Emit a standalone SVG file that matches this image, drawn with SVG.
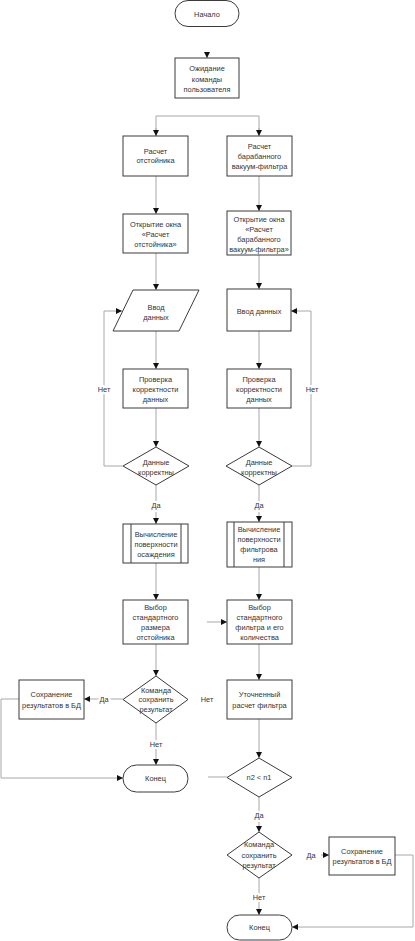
<svg xmlns="http://www.w3.org/2000/svg" width="415" height="941" viewBox="0 0 415 941">
<style>
.n{fill:#fff;stroke:#3a3a3a;stroke-width:1}
.t{font-family:"Liberation Sans",Arial,sans-serif;font-size:7.4px;fill:#333;text-anchor:middle}
.c{fill:none;stroke:#a8a8a8;stroke-width:1}
.a{marker-end:url(#ah)}
.l{font-family:"Liberation Sans",Arial,sans-serif;font-size:7.4px;fill:#333;text-anchor:middle;stroke:#fff;stroke-width:4;paint-order:stroke}
</style>
<defs>
<marker id="ah" viewBox="0 0 6 6" refX="6" refY="3" markerWidth="6" markerHeight="6" markerUnits="userSpaceOnUse" orient="auto">
<path d="M0,0 L6,3 L0,6 z" fill="#111"/>
</marker>
</defs>
<rect width="415" height="941" fill="#fff"/>
<g id="connectors">
<path class="c a" d="M207,53 V58"/>
<path class="c" d="M156,136 V116 H259 V136"/>
<path class="c a" d="M156,128 V136"/>
<path class="c a" d="M259,128 V136"/>
<path class="c a" d="M156,176 V214"/>
<path class="c a" d="M259,176 V211"/>
<path class="c a" d="M156,253 V290"/>
<path class="c a" d="M259,255 V289"/>
<path class="c a" d="M156,331 V369"/>
<path class="c a" d="M259,331 V369"/>
<path class="c a" d="M156,408 V447"/>
<path class="c a" d="M259,408 V447"/>
<path class="c a" d="M123,466 H104 V311 H122"/>
<path class="c a" d="M292,466 H311 V311 H291"/>
<path class="c a" d="M156,485 V524"/>
<path class="c a" d="M259,485 V522"/>
<path class="c a" d="M156,563 V600"/>
<path class="c a" d="M259,567 V600"/>
<path class="c a" d="M207,622 H227"/>
<path class="c a" d="M156,644 V676"/>
<path class="c a" d="M259,644 V680"/>
<path class="c a" d="M123,699 H84"/>
<path class="c a" d="M19,699 H1 V778 H123"/>
<path class="c a" d="M156,723 V765"/>
<path class="c" d="M208,777 H227"/>
<path class="c a" d="M259,719 V758"/>
<path class="c a" d="M259,797 V832"/>
<path class="c a" d="M321,855 H329"/>
<path class="c a" d="M395,855 H413 V927 H292"/>
<path class="c a" d="M259,878 V915"/>
<text class="l" x="104" y="392">Нет</text>
<text class="l" x="312" y="392">Нет</text>
<text class="l" x="156" y="508">Да</text>
<text class="l" x="259" y="508">Да</text>
<text class="l" x="104" y="702">Да</text>
<text class="l" x="156" y="747">Нет</text>
<text class="l" x="207" y="702">Нет</text>
<text class="l" x="259" y="818">Да</text>
<text class="l" x="311" y="858">Да</text>
<text class="l" x="259" y="900">Нет</text>
</g>
<g id="start"><rect class="n" x="175" y="0.5" width="64" height="26" rx="13"/><text class="t" x="207" y="16.5">Начало</text></g>
<g id="wait"><rect class="n" x="175" y="58" width="64" height="40"/><text class="t" x="207" y="71">Ожидание</text><text class="t" x="207" y="81.5">команды</text><text class="t" x="207" y="92">пользователя</text></g>
<g id="calcL"><rect class="n" x="123" y="136" width="65" height="40"/><text class="t" x="155.5" y="153.5">Расчет</text><text class="t" x="155.5" y="163">отстойника</text></g>
<g id="calcR"><rect class="n" x="227" y="136" width="65" height="40"/><text class="t" x="259.5" y="148.5">Расчет</text><text class="t" x="259.5" y="158.5">барабанного</text><text class="t" x="259.5" y="168.5">вакуум-фильтра</text></g>
<g id="openL"><rect class="n" x="123" y="214" width="65" height="39"/><text class="t" x="155.5" y="226.5">Открытие окна</text><text class="t" x="155.5" y="236.5">«Расчет</text><text class="t" x="155.5" y="246.5">отстойника»</text></g>
<g id="openR"><rect class="n" x="227" y="211" width="64" height="44"/><text class="t" x="259" y="221.5">Открытие окна</text><text class="t" x="259" y="231.5">«Расчет</text><text class="t" x="259" y="241.5">барабанного</text><text class="t" x="259" y="251.5">вакуум-фильтра»</text></g>
<g id="inputL"><polygon class="n" points="133,290 199,290 179,331 113,331"/><text class="t" x="156" y="309.5">Ввод</text><text class="t" x="156" y="319.5">данных</text></g>
<g id="inputR"><rect class="n" x="227" y="289" width="64" height="42"/><text class="t" x="259" y="313.5">Ввод данных</text></g>
<g id="checkL"><rect class="n" x="123" y="369" width="65" height="39"/><text class="t" x="155.5" y="381.5">Проверка</text><text class="t" x="155.5" y="391.5">корректности</text><text class="t" x="155.5" y="401.5">данных</text></g>
<g id="checkR"><rect class="n" x="227" y="369" width="64" height="39"/><text class="t" x="259" y="381.5">Проверка</text><text class="t" x="259" y="391.5">корректности</text><text class="t" x="259" y="401.5">данных</text></g>
<g id="decL"><polygon class="n" points="156,447 189,466 156,485 123,466"/><text class="t" x="156" y="464.5">Данные</text><text class="t" x="156" y="474.5">корректны</text></g>
<g id="decR"><polygon class="n" points="259,447 292,466 259,485 226,466"/><text class="t" x="259" y="464.5">Данные</text><text class="t" x="259" y="474.5">корректны</text></g>
<g id="compL"><rect class="n" x="123" y="524" width="65" height="39"/><line class="n" x1="131" y1="524" x2="131" y2="563"/><line class="n" x1="181" y1="524" x2="181" y2="563"/><text class="t" x="156" y="536.5">Вычисление</text><text class="t" x="156" y="546.5">поверхности</text><text class="t" x="156" y="556.5">осаждения</text></g>
<g id="compR"><rect class="n" x="227" y="522" width="65" height="45"/><line class="n" x1="234" y1="522" x2="234" y2="567"/><line class="n" x1="284" y1="522" x2="284" y2="567"/><text class="t" x="259" y="531.5">Вычисление</text><text class="t" x="259" y="541.5">поверхности</text><text class="t" x="259" y="551.5">фильтрова</text><text class="t" x="259" y="561.5">ния</text></g>
<g id="selL"><rect class="n" x="123" y="600" width="65" height="44"/><text class="t" x="155.5" y="609.5">Выбор</text><text class="t" x="155.5" y="619.5">стандартного</text><text class="t" x="155.5" y="629.5">размера</text><text class="t" x="155.5" y="639.5">отстойника</text></g>
<g id="selR"><rect class="n" x="227" y="600" width="65" height="44"/><text class="t" x="259.5" y="609.5">Выбор</text><text class="t" x="259.5" y="619.5">стандартного</text><text class="t" x="259.5" y="629.5">фильтра и его</text><text class="t" x="259.5" y="639.5">количества</text></g>
<g id="saveDecL"><polygon class="n" points="156,676 188,699.5 156,723 123,699.5"/><text class="t" x="156" y="692.5">Команда</text><text class="t" x="156" y="702">сохранить</text><text class="t" x="156" y="712">результат</text></g>
<g id="saveL"><rect class="n" x="19" y="680" width="65" height="39"/><text class="t" x="51.5" y="696.5">Сохранение</text><text class="t" x="51.5" y="707.5">результатов в БД</text></g>
<g id="endL"><rect class="n" x="123" y="765" width="65" height="27" rx="13.5"/><text class="t" x="155.5" y="781">Конец</text></g>
<g id="refine"><rect class="n" x="227" y="680" width="65" height="39"/><text class="t" x="259.5" y="696.5">Уточненный</text><text class="t" x="259.5" y="707.5">расчет фильтра</text></g>
<g id="cmpN"><polygon class="n" points="259,758 292,777.5 259,797 227,777.5"/><text class="t" x="259" y="780">n2 &lt; n1</text></g>
<g id="saveDecR"><polygon class="n" points="259,832 292,855 259,878 227,855"/><text class="t" x="259" y="847">Команда</text><text class="t" x="259" y="857.5">сохранить</text><text class="t" x="259" y="867.5">результат</text></g>
<g id="saveR"><rect class="n" x="329" y="837" width="66" height="38"/><text class="t" x="362" y="853.5">Сохранение</text><text class="t" x="362" y="864">результатов в БД</text></g>
<g id="endR"><rect class="n" x="227" y="915" width="65" height="25" rx="12.5"/><text class="t" x="259.5" y="930">Конец</text></g>
</svg>
